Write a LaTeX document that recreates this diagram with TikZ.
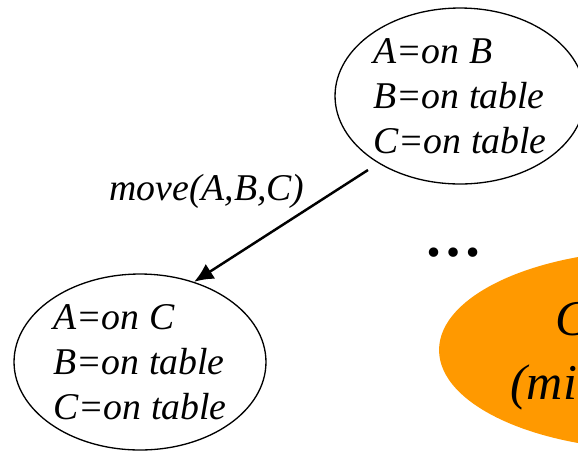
\documentclass[tikz,border=0pt]{standalone}
\usepackage{fontspec}
\setmainfont{Liberation Serif}
\usetikzlibrary{arrows.meta, shapes.geometric}
\definecolor{goalorange}{RGB}{255,153,0}
\newcommand{\statefont}{\fontsize{21.5}{25.6}\selectfont\itshape}

\begin{document}
\begin{tikzpicture}[x = 0.02cm, y = -0.02cm,
  state/.style = {draw, ellipse, line width = 0.75pt, inner sep = 0pt, align = left, font = \statefont, minimum height = 3.52cm},
  goal/.style = {anchor = base west, font = \fontsize{28.5}{34}\selectfont\itshape}]
\useasboundingbox (0,0) rectangle (578,451);
\clip (0,0) rectangle (578,451);
\node[state, minimum width = 5cm] (upper) at (460,96) {A=on B\\B=on table\\C=on table};
\node[state, minimum width = 5.04cm] (lower) at (140,362) {A=on C\\B=on table\\C=on table};
\node[fill = goalorange, ellipse, minimum width = 8.8cm, minimum height = 4cm] (cost) at (659,350) {};
\node[goal] (goalC) at (549,335) {C};
\node[goal] (goalmi) at (504,399) {(mi};
\node[anchor = base, font = \fontsize{33}{33}\selectfont\bfseries] (dots) at (453,256) {\dots};
\coordinate (from) at (368,170);
\draw[-{Latex[length = 11pt, width = 10pt]}, line width = 1.4pt] (from) -- (lower.56);
\node[anchor = base, font = \statefont] (move) at (207,200) {move(A,B,C)};
\end{tikzpicture}
\end{document}
